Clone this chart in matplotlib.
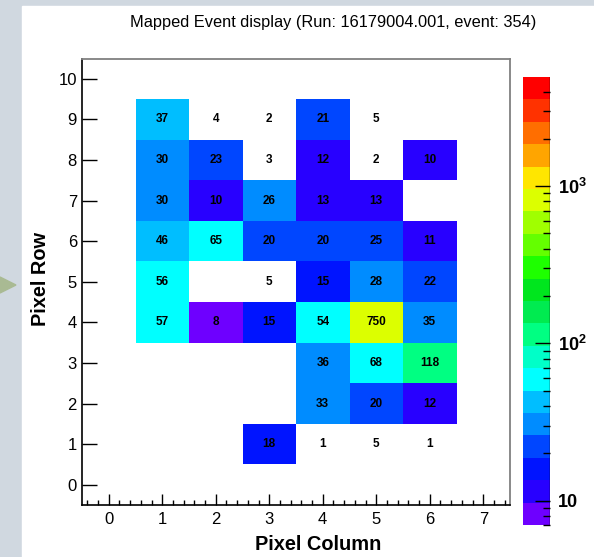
import numpy as np
import matplotlib
matplotlib.use("Agg")
import matplotlib.pyplot as plt
from matplotlib.colors import ListedColormap, LogNorm
from matplotlib.patches import Rectangle, Polygon
import matplotlib.ticker as mticker

plt.rcParams['font.family'] = ['Liberation Sans', 'DejaVu Sans']
plt.rcParams['mathtext.fontset'] = 'custom'
plt.rcParams['mathtext.rm'] = 'Liberation Sans:bold'
plt.rcParams['mathtext.bf'] = 'Liberation Sans:bold'
plt.rcParams['mathtext.default'] = 'bf'

# hits per pixel, rows 1..9 bottom to top, columns 1..6 (0 = nothing)
columns = [1, 2, 3, 4, 5, 6]
rows = [1, 2, 3, 4, 5, 6, 7, 8, 9]
counts = [
    [0, 0, 18, 1, 5, 1],
    [0, 0, 0, 33, 20, 12],
    [0, 0, 0, 36, 68, 118],
    [57, 8, 15, 54, 750, 35],
    [56, 0, 5, 15, 28, 22],
    [46, 65, 20, 20, 25, 11],
    [30, 10, 26, 13, 13, 0],
    [30, 23, 3, 12, 2, 10],
    [37, 4, 2, 21, 5, 0],
]

# z range of the colour axis (log)
zmin = 10 ** 0.8445
zmax = 10 ** 3.6945

# ROOT-ish rainbow palette, 20 levels, bottom to top
palette = ["#6e00ff", "#2800ff", "#0014ff", "#0046ff", "#008cff",
           "#00beff", "#00ffff", "#00ffc8", "#00ff82", "#00eb50",
           "#00e61e", "#1eff00", "#64ff00", "#a0ff00", "#dcff00",
           "#ffe600", "#ffa500", "#ff6e00", "#ff3200", "#ff0000"]

cmap = ListedColormap(palette)
cmap.set_under((1, 1, 1, 0))
cmap.set_bad((1, 1, 1, 0))
norm = LogNorm(vmin=zmin, vmax=zmax)

fig = plt.figure(figsize=(5.94, 5.57), dpi=100, facecolor="#d0d8e0")
fig.add_artist(Rectangle((22 / 594, 0), 1 - 22 / 594, 551 / 557,
                         transform=fig.transFigure, color="white", zorder=0))
fig.add_artist(Polygon([(0, 1 - 277 / 557), (16 / 594, 1 - 285 / 557), (0, 1 - 293 / 557)],
                       closed=True, transform=fig.transFigure, color="#a9ba93", zorder=1))

ax = fig.add_axes([82 / 594, 1 - 505 / 557, 428 / 594, 446.5 / 557])

z = np.ma.masked_less_equal(np.array(counts, dtype=float), 0)
xe = np.append(np.array(columns) - 0.5, columns[-1] + 0.5)
ye = np.append(np.array(rows) - 0.5, rows[-1] + 0.5)
mesh = ax.pcolormesh(xe, ye, z, cmap=cmap, norm=norm, antialiased=False)

for i, r in enumerate(rows):
    for j, c in enumerate(columns):
        v = counts[i][j]
        if v > 0:
            ax.text(c, r, str(v), ha="center", va="center",
                    fontsize=8.5, fontweight="bold", color="black")

ax.set_xlim(-0.5, 7.5)
ax.set_ylim(-0.5, 10.5)
ax.xaxis.set_major_locator(mticker.MultipleLocator(1))
ax.xaxis.set_minor_locator(mticker.MultipleLocator(0.2))
ax.yaxis.set_major_locator(mticker.MultipleLocator(1))
ax.yaxis.set_minor_locator(mticker.NullLocator())
ax.tick_params(axis="x", which="major", direction="in", length=7.7, width=1, pad=5, labelsize=12)
ax.tick_params(axis="x", which="minor", direction="in", length=3.6, width=1)
ax.tick_params(axis="y", which="major", direction="in", length=10.8, width=1, pad=3.6, labelsize=12)
for s in ["left", "bottom"]:
    ax.spines[s].set_color("black")
    ax.spines[s].set_linewidth(1.2)
for s in ["top", "right"]:
    ax.spines[s].set_color("#808080")
    ax.spines[s].set_linewidth(1.3)

fig.text(333.5 / 594, 1 - 22 / 557, "Mapped Event display (Run: 16179004.001, event: 354)",
         ha="center", va="center", fontsize=11.8)
fig.text(318.5 / 594, 1 - 545 / 557, "Pixel Column", ha="center", va="center",
         fontsize=14.4, fontweight="bold")
fig.text(41 / 594, 1 - 279 / 557, "Pixel Row", ha="center", va="center",
         rotation=90, fontsize=14.4, fontweight="bold")

# colour scale
cax = fig.add_axes([523 / 594, 1 - 525 / 557, 27 / 594, 448 / 557])
cb = fig.colorbar(mesh, cax=cax)
cb.outline.set_visible(False)
cax.axvline(1, color="black", lw=1)
cb.set_ticks([10, 100, 1000])
cb.set_ticklabels(["10", "$10^{2}$", "$10^{3}$"])
cax.yaxis.set_minor_locator(mticker.LogLocator(subs=np.arange(2, 10)))
cax.yaxis.set_minor_formatter(mticker.NullFormatter())
cax.tick_params(which="major", direction="in", length=10.8, width=1, pad=5.5, labelsize=13)
cax.tick_params(which="minor", direction="in", length=5, width=1)
for t in cax.get_yticklabels():
    t.set_fontweight("bold")

fig.savefig("out.png", dpi=100, facecolor=fig.get_facecolor())
